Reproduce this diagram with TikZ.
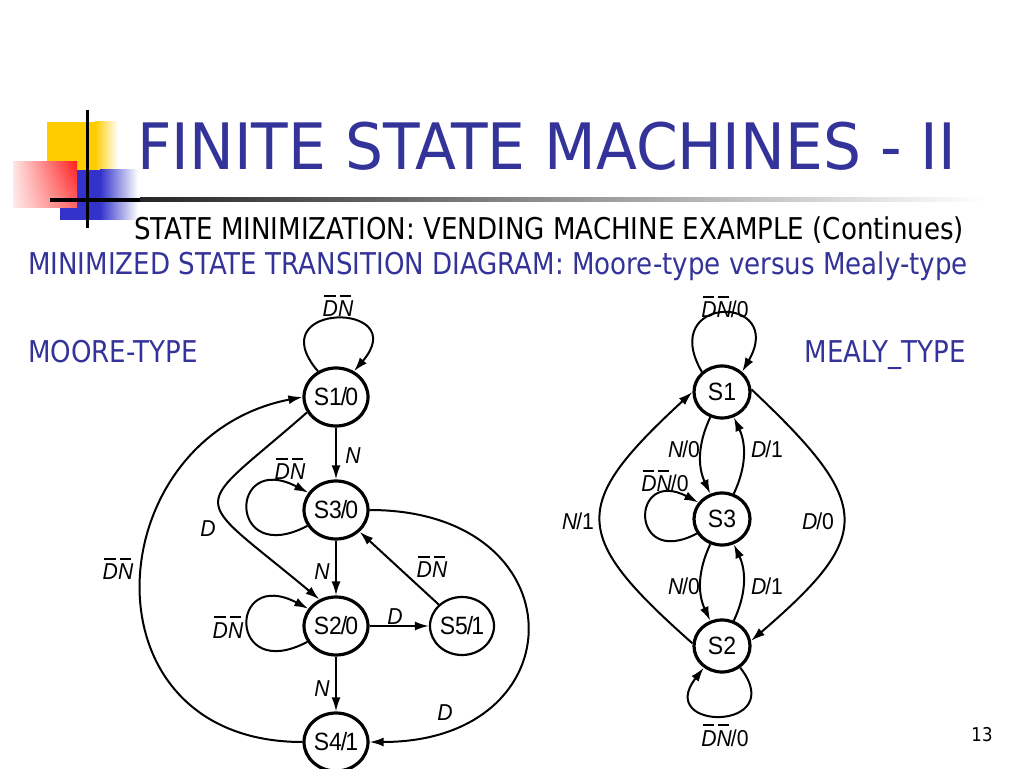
\documentclass[tikz,border=0pt]{standalone}
\usepackage{fontspec}
\setmainfont{DejaVu Sans}
\newfontfamily\titlefont[FakeStretch=0.935]{DejaVu Sans}
\newfontfamily\slidefont[FakeStretch=0.87]{DejaVu Sans}
\newfontfamily\diagfont[FakeStretch=0.92]{Liberation Sans}
\usepackage{tikz}
\usetikzlibrary{positioning,arrows.meta,shapes.geometric,shadings}
\definecolor{slideblue}{RGB}{51,51,153}
\definecolor{decoyellow}{RGB}{255,204,0}
\definecolor{decoblue}{RGB}{51,51,204}
\definecolor{decored}{RGB}{255,30,30}
% overlined letter, bar shorter than the glyph
\newcommand\ovr[1]{\setbox0=\hbox{#1}%
  \rlap{\raisebox{\dimexpr\ht0+4pt\relax}{\kern1.5pt\rule{\dimexpr\wd0-4pt\relax}{2.2pt}}}\box0}
\newcommand\dn{\ovr{D}\ovr{N}}

\begin{document}
\begin{tikzpicture}[x=1pt, y=1pt, >={Latex[length=14pt,width=9pt]}]
  \tikzset{
    state/.style={ellipse,draw,line width=3.2pt,minimum width=64pt,
                  minimum height=58pt,inner sep=0pt,
                  font=\diagfont\fontsize{25}{27}\selectfont},
    lstate/.style={state,line width=2.2pt},
    ystate/.style={state,minimum width=56pt,minimum height=52pt},
    trans/.style={->,line width=2pt},
    lbl/.style={anchor=base,inner sep=0pt,
                font=\diagfont\itshape\fontsize{23}{25}\selectfont},
    head/.style={anchor=base west,inner sep=0pt,
                 font=\slidefont\fontsize{30}{34}\selectfont}
  }
  \fill[white] (0,0) rectangle (1024,768);
  \useasboundingbox (0,0) rectangle (1024,768);
  % corner decoration
  \fill[decoyellow] (47,598) rectangle (95,646);
  \shade[left color=decoyellow,right color=white] (95,598) rectangle (118,646);
  \fill[decoblue] (60,548) rectangle (100,598);
  \shade[left color=decoblue,right color=white] (100,548) rectangle (138,598);
  \shade[upper left=red!10,upper right=decored,lower left=red!8,
         lower right=red!60] (13,560) rectangle (77,606);
  \draw[line width=3pt] (87,540) -- (87,658);
  \fill (50,566) rectangle (140,570);
  \shade[left color=black!85,right color=white] (140,566) rectangle (985,570);
  % slide texts
  \node[anchor=base west,inner sep=0pt,text=slideblue,
        font=\titlefont\fontsize{64}{70}\selectfont] (title) at (137,598)
        {FINITE STATE MACHINES - II};
  \node[head] (sub) at (134,528)
        {STATE MINIMIZATION: VENDING MACHINE EXAMPLE (Continues)};
  \node[head,text=slideblue] (diag) at (28,493)
        {MINIMIZED STATE TRANSITION DIAGRAM: Moore-type versus Mealy-type};
  \node[head,text=slideblue] (moore) at (28,405) {MOORE-TYPE};
  \node[head,text=slideblue,anchor=base east] (mealy) at (966,405) {MEALY\_TYPE};
  \node[anchor=base,inner sep=0pt,font=\slidefont\fontsize{19}{21}\selectfont]
        (pnum) at (982,27) {13};

  % Moore-type states
  \node[state]  (m1) at (336,371) {S1\kern-1pt/\kern-2pt0};
  \node[state]  (m3) at (336,258) {S3\kern-1pt/\kern-2pt0};
  \node[state]  (m2) at (336,142) {S2\kern-1pt/\kern-2pt0};
  \node[lstate] (m5) at (462,142) {S5\kern-1pt/\kern-2pt1};
  \node[state]  (m4) at (336,26)  {S4\kern-1pt/\kern-2pt1};
  % Moore-type transitions
  \draw[trans] (m1.125) .. controls +(-60,70) and +(60,70) .. (m1.55);
  \draw[trans] (m3.209) .. controls +(-80,-42) and +(-80,42) .. (m3.148);
  \draw[trans] (m2.209) .. controls +(-80,-42) and +(-80,42) .. (m2.148);
  \draw[trans] (m1) -- (m3);
  \draw[trans] (m3) -- (m2);
  \draw[trans] (m2) -- (m4);
  \draw[trans] (m2) -- (m5);
  \draw[trans] (m5) -- (m3);
  \draw[trans] (m1.208) .. controls (189,252) and (187,279) .. (m2.122);
  \draw[trans] (m4.west) .. controls +(-225,0) and +(-205,-40) .. (m1.west);
  \draw[trans] (m3.east) .. controls +(210,0) and +(210,0) .. (m4.east);
  % Moore-type labels
  \node[lbl] (lm11) at (338,451) {\dn};
  \node[lbl] (lm13) at (353,304) {N};
  \node[lbl] (lm33) at (290,288) {\dn};
  \node[lbl] (lm12) at (208,231) {D};
  \node[lbl] (lm41) at (118,188) {\dn};
  \node[lbl] (lm32) at (322,188) {N};
  \node[lbl] (lm53) at (432,190) {\dn};
  \node[lbl] (lm22) at (228,130) {\dn};
  \node[lbl] (lm25) at (395,143) {D};
  \node[lbl] (lm24) at (322,72)  {N};
  \node[lbl] (lm34) at (445,48)  {D};

  % Mealy-type states
  \node[ystate] (y1) at (722,376) {S1};
  \node[ystate] (y3) at (722,249) {S3};
  \node[ystate] (y2) at (722,122) {S2};
  % Mealy-type transitions
  \draw[trans] (y1.135) .. controls +(-45,78) and +(45,78) .. (y1.45);
  \draw[trans] (y3.210) .. controls +(-68,-36) and +(-68,36) .. (y3.145);
  \draw[trans] (y2.310) .. controls +(50,-64) and +(-50,-64) .. (y2.230);
  \draw[trans] (y1) to[bend right=25] (y3);
  \draw[trans] (y3) to[bend right=25] (y1);
  \draw[trans] (y3) to[bend right=25] (y2);
  \draw[trans] (y2) to[bend right=25] (y3);
  \draw[trans] (y2.175) .. controls (570,233) and (570,263) .. (y1.180);
  \draw[trans] (y1.5) .. controls (874,263) and (874,233) .. (y2.10);
  % Mealy-type labels
  \node[lbl] (ly11) at (725,450) {\dn\kern-1pt\upshape/0};
  \node[lbl] (ly13) at (684,310) {N\kern-1pt\upshape/0};
  \node[lbl] (ly31) at (767,310) {D\kern-1pt\upshape/1};
  \node[lbl] (ly33) at (665,276) {\dn\kern-1pt\upshape/0};
  \node[lbl] (ly21) at (578,238) {N\kern-1pt\upshape/1};
  \node[lbl] (ly12) at (818,238) {D\kern-1pt\upshape/0};
  \node[lbl] (ly32) at (684,173) {N\kern-1pt\upshape/0};
  \node[lbl] (ly23) at (767,173) {D\kern-1pt\upshape/1};
  \node[lbl] (ly22) at (725,22)  {\dn\kern-1pt\upshape/0};
\end{tikzpicture}
\end{document}
